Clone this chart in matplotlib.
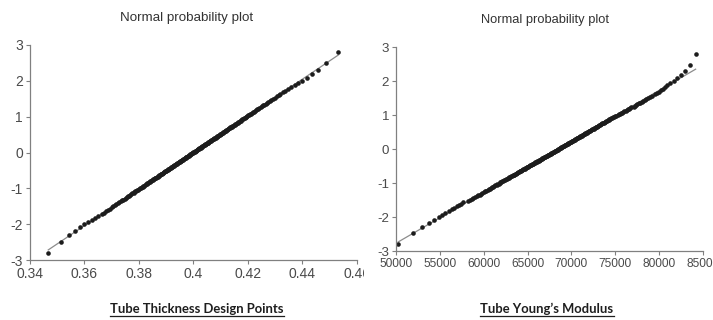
import statistics
import numpy as np
import matplotlib
matplotlib.use("Agg")
import matplotlib.pyplot as plt
from matplotlib.lines import Line2D
from matplotlib.transforms import Bbox, TransformedBbox

plt.rcParams['font.family'] = ['Liberation Sans', 'DejaVu Sans']
plt.rcParams['axes.unicode_minus'] = False

# --- DATA (sorted sample values) ---
thickness = [
    0.3467, 0.3514, 0.3543, 0.3564, 0.3582, 0.3598, 0.3613, 0.3627, 0.3640, 0.3651,
    0.3663, 0.3671, 0.3679, 0.3686, 0.3693, 0.3700, 0.3706, 0.3712, 0.3717, 0.3723,
    0.3728, 0.3733, 0.3738, 0.3743, 0.3747, 0.3752, 0.3756, 0.3760, 0.3764, 0.3768,
    0.3772, 0.3776, 0.3780, 0.3783, 0.3787, 0.3790, 0.3794, 0.3797, 0.3800, 0.3804,
    0.3807, 0.3810, 0.3813, 0.3816, 0.3819, 0.3822, 0.3825, 0.3828, 0.3831, 0.3834,
    0.3836, 0.3839, 0.3842, 0.3845, 0.3847, 0.3850, 0.3853, 0.3855, 0.3858, 0.3860,
    0.3863, 0.3865, 0.3868, 0.3870, 0.3872, 0.3875, 0.3877, 0.3879, 0.3882, 0.3884,
    0.3887, 0.3889, 0.3891, 0.3893, 0.3896, 0.3898, 0.3900, 0.3902, 0.3905, 0.3907,
    0.3909, 0.3911, 0.3913, 0.3916, 0.3918, 0.3920, 0.3922, 0.3924, 0.3926, 0.3928,
    0.3930, 0.3932, 0.3934, 0.3936, 0.3939, 0.3941, 0.3943, 0.3945, 0.3947, 0.3949,
    0.3951, 0.3953, 0.3955, 0.3957, 0.3959, 0.3961, 0.3963, 0.3965, 0.3967, 0.3969,
    0.3971, 0.3972, 0.3974, 0.3976, 0.3978, 0.3980, 0.3982, 0.3984, 0.3986, 0.3988,
    0.3990, 0.3992, 0.3994, 0.3996, 0.3998, 0.4000, 0.4002, 0.4004, 0.4006, 0.4008,
    0.4010, 0.4012, 0.4014, 0.4016, 0.4018, 0.4020, 0.4022, 0.4024, 0.4026, 0.4028,
    0.4029, 0.4031, 0.4033, 0.4035, 0.4037, 0.4039, 0.4041, 0.4043, 0.4045, 0.4047,
    0.4049, 0.4052, 0.4053, 0.4055, 0.4058, 0.4060, 0.4062, 0.4064, 0.4066, 0.4068,
    0.4070, 0.4072, 0.4074, 0.4076, 0.4078, 0.4081, 0.4083, 0.4085, 0.4087, 0.4089,
    0.4091, 0.4093, 0.4096, 0.4098, 0.4100, 0.4102, 0.4105, 0.4107, 0.4109, 0.4111,
    0.4114, 0.4116, 0.4119, 0.4121, 0.4123, 0.4126, 0.4128, 0.4130, 0.4133, 0.4135,
    0.4138, 0.4140, 0.4143, 0.4145, 0.4148, 0.4151, 0.4153, 0.4156, 0.4159, 0.4162,
    0.4164, 0.4167, 0.4170, 0.4173, 0.4176, 0.4179, 0.4182, 0.4185, 0.4188, 0.4191,
    0.4194, 0.4198, 0.4201, 0.4204, 0.4208, 0.4211, 0.4215, 0.4218, 0.4222, 0.4226,
    0.4230, 0.4234, 0.4238, 0.4242, 0.4246, 0.4251, 0.4255, 0.4260, 0.4265, 0.4270,
    0.4275, 0.4281, 0.4286, 0.4292, 0.4298, 0.4305, 0.4312, 0.4319, 0.4327, 0.4335,
    0.4347, 0.4358, 0.4371, 0.4385, 0.4400, 0.4416, 0.4434, 0.4457, 0.4485, 0.4531,
]

modulus = [
    50260, 51970, 52990, 53780, 54350, 54920, 55210, 55620, 55990, 56330,
    56640, 56930, 57200, 57450, 57680, 58200, 58420, 58620, 58820, 59010,
    59190, 59360, 59530, 59690, 59850, 60000, 60150, 60290, 60440, 60580,
    60710, 60840, 60970, 61100, 61220, 61340, 61460, 61570, 61690, 61800,
    61910, 62020, 62130, 62240, 62340, 62440, 62540, 62640, 62740, 62830,
    62930, 63030, 63120, 63210, 63310, 63400, 63490, 63580, 63670, 63750,
    63840, 63930, 64010, 64100, 64180, 64260, 64340, 64420, 64500, 64590,
    64670, 64740, 64820, 64900, 64980, 65060, 65130, 65210, 65290, 65360,
    65440, 65510, 65590, 65670, 65730, 65810, 65880, 65960, 66030, 66100,
    66170, 66250, 66310, 66390, 66460, 66530, 66600, 66670, 66740, 66810,
    66880, 66950, 67020, 67090, 67160, 67220, 67300, 67360, 67430, 67500,
    67570, 67630, 67700, 67770, 67840, 67910, 67980, 68040, 68110, 68180,
    68250, 68310, 68380, 68450, 68520, 68580, 68650, 68720, 68780, 68850,
    68910, 68980, 69050, 69110, 69180, 69240, 69320, 69380, 69450, 69510,
    69580, 69650, 69710, 69780, 69850, 69920, 69980, 70050, 70120, 70190,
    70250, 70330, 70390, 70460, 70530, 70600, 70670, 70740, 70810, 70880,
    70950, 71020, 71090, 71160, 71240, 71310, 71380, 71450, 71530, 71600,
    71670, 71740, 71820, 71900, 71970, 72050, 72120, 72200, 72280, 72350,
    72430, 72520, 72600, 72680, 72750, 72830, 72910, 73000, 73080, 73160,
    73250, 73330, 73410, 73510, 73590, 73690, 73780, 73860, 73960, 74050,
    74150, 74240, 74340, 74440, 74540, 74640, 74730, 74840, 74950, 75050,
    75360, 75470, 75580, 75690, 75810, 75930, 76050, 76180, 76300, 76430,
    76560, 76700, 76840, 77090, 77230, 77380, 77530, 77680, 77840, 78010,
    78180, 78360, 78550, 78740, 78950, 79160, 79550, 79760, 79970, 80190,
    80420, 80660, 80920, 81240, 81640, 82070, 82460, 82910, 83480, 84160,
]

y_ticks = [-3, -2, -1, 0, 1, 2, 3]
y_labels = ["-3", "-2", "-1", "0", "1", "2", "3"]
thick_ticks = [0.34, 0.36, 0.38, 0.40, 0.42, 0.44, 0.46]
thick_labels = ["0.34", "0.36", "0.38", "0.4", "0.42", "0.44", "0.46"]
mod_ticks = [50000, 55000, 60000, 65000, 70000, 75000, 80000, 85000]
mod_labels = ["50000", "55000", "60000", "65000", "70000", "75000", "80000", "85000"]

title = "Normal probability plot"
captions = ["Tube Thickness Design Points", "Tube Young\u2019s Modulus"]

W, H = 713, 320
nd = statistics.NormalDist()


def normal_scores(n):
    # Blom plotting positions
    return np.array([nd.inv_cdf((i - 0.375) / (n + 0.25)) for i in range(1, n + 1)])


def prob_panel(ax, values, xticks, xlabels, xfs, yfs):
    x = np.sort(np.asarray(values, dtype=float))
    z = normal_scores(len(x))
    b, a = np.polyfit(x, z, 1)
    xl = np.array([x.min(), x.max()])
    ax.plot(xl, a + b * xl, color='#8c8c8c', lw=0.9, zorder=1)
    ax.plot(x, z, 'o', ms=3.3, color='#1c1c1c', mec='none', zorder=2)

    ax.set_xlim(xticks[0], xticks[-1])
    ax.set_ylim(-3, 3)
    ax.set_xticks(xticks)
    ax.set_xticklabels(xlabels)
    ax.set_yticks(y_ticks)
    ax.set_yticklabels(y_labels)
    for s in ['top', 'right']:
        ax.spines[s].set_visible(False)
    for s in ['left', 'bottom']:
        ax.spines[s].set_color('#808080')
        ax.spines[s].set_linewidth(0.9)
    ax.tick_params(direction='out', length=3, width=0.8, color='#808080',
                   labelcolor='#4a4a4a', pad=2)
    ax.tick_params(axis='x', labelsize=xfs)
    ax.tick_params(axis='y', labelsize=yfs)


fig = plt.figure(figsize=(W / 100, H / 100), dpi=100)
fig.patch.set_facecolor('white')

ax1 = fig.add_axes([30 / W, (H - 260) / H, 327 / W, 215 / H])
ax2 = fig.add_axes([396 / W, (H - 251) / H, 307 / W, 204 / H])

prob_panel(ax1, thickness, thick_ticks, thick_labels, 10, 10)
prob_panel(ax2, modulus, mod_ticks, mod_labels, 8.6, 9.6)

# left panel screenshot is cut just after "0.4" of the last label
clip = TransformedBbox(Bbox([[0, 0], [364 / W, 1]]), fig.transFigure)
for lbl in ax1.get_xticklabels():
    lbl.set_clip_box(clip)
    lbl.set_clip_on(True)

fig.text(187 / W, 1 - 18 / H, title, ha='center', va='center',
         fontsize=9.6, color='#333333')
fig.text(545 / W, 1 - 20 / H, title, ha='center', va='center',
         fontsize=9.3, color='#333333')

cap_x = [197 / W, 547 / W]
caps = []
for cx, txt in zip(cap_x, captions):
    caps.append(fig.text(cx, 1 - 313 / H, txt, ha='center', va='baseline',
                         fontsize=9.4, fontweight='bold', color='#1e1e1e',
                         family=['Lato', 'DejaVu Sans']))

# underline the captions
fig.canvas.draw()
r = fig.canvas.get_renderer()
for t in caps:
    bb = t.get_window_extent(r)
    yl = 1 - 316 / H
    fig.add_artist(Line2D([bb.x0 / W, bb.x1 / W], [yl, yl], color='#1e1e1e',
                          lw=0.9, transform=fig.transFigure))

fig.savefig('out.png', dpi=100, facecolor='white')
